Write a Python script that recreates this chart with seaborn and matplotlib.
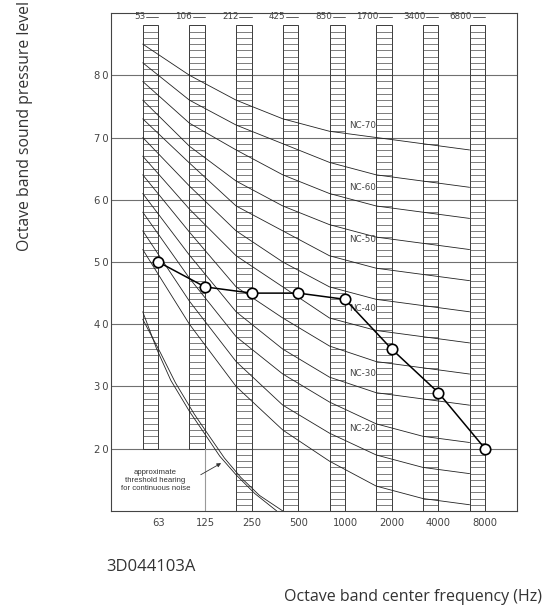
import matplotlib
matplotlib.use("Agg")
import matplotlib.pyplot as plt
import numpy as np
import pandas as pd
import seaborn as sns

# band positions (index of ladder left edge), old and new band labels
band_idx = [0, 1, 2, 3, 4, 5, 6, 7]
old_bands = ["53", "106", "212", "425", "850", "1700", "3400", "6800"]
new_bands = ["63", "125", "250", "500", "1000", "2000", "4000", "8000"]

# NC curves, values at the 8 band positions
nc15 = [52, 40.0, 30, 23, 18.0, 14, 12, 11]
nc20 = [55, 43.7, 34, 27, 22.5, 19, 17, 16]
nc25 = [58, 47.4, 38, 32, 27.5, 24, 22, 21]
nc30 = [61, 51.1, 42, 36, 31.5, 29, 28, 27]
nc35 = [64, 54.8, 46, 41, 36.5, 34, 33, 32]
nc40 = [67, 58.5, 51, 46, 41.0, 39, 38, 37]
nc45 = [70, 62.2, 55, 50, 46.0, 44, 43, 42]
nc50 = [73, 65.9, 59, 55, 51.0, 49, 48, 47]
nc55 = [76, 68.6, 63, 59, 56.0, 54, 53, 52]
nc60 = [79, 72.3, 68, 64, 61.0, 59, 58, 57]
nc65 = [82, 76.0, 72, 69, 66.0, 64, 63, 62]
nc70 = [85, 80.0, 76, 73, 71.0, 70, 69, 68]

# measured spectrum
measured = [50, 46, 45, 45, 44, 36, 29, 20]

# approximate hearing threshold (double line)
thr_a_x = [0, 0.3, 0.6, 1.0, 1.3, 1.65, 2.0, 2.4, 2.87]
thr_a_y = [42, 36, 31, 26, 22.7, 18.8, 15.8, 12.8, 10]
thr_b_x = [0, 0.38, 0.7, 1.1, 1.4, 1.75, 2.1, 2.5, 3.0]
thr_b_y = [40.8, 35.4, 30.6, 25.6, 22.3, 18.5, 15.4, 12.5, 10]

# labelled curves and where their labels sit
nc_label_names = ["NC-70", "NC-60", "NC-50", "NC-40", "NC-30", "NC-20"]
nc_label_y = [72.0, 61.9, 53.6, 42.6, 32.1, 23.3]

sns.set_theme(style="white")
plt.rcParams["font.family"] = ["DejaVu Sans"]

fig = plt.figure(figsize=(5.49, 6.05), dpi=100)
ax = fig.add_axes([0.2022, 0.1554, 0.739, 0.8231])
ax.set_xlim(-0.68, 8.01)
ax.set_ylim(10, 90)

# horizontal grid
for yv in range(20, 90, 10):
    ax.axhline(yv, color="#707070", lw=0.8, zorder=0.5)

# ladders
ladder_w = 1 / 3
for i in band_idx:
    bottom = 20 if i < 2 else 10
    ax.add_patch(plt.Rectangle((i, bottom), ladder_w, 88 - bottom, fill=False,
                               ec="#3a3a3a", lw=0.7, zorder=1))
    ax.hlines(np.arange(bottom + 1, 88), i, i + ladder_w, color="#4a4a4a",
              lw=0.5, zorder=1)
    ax.text(i + 0.05, 89.4, old_bands[i], ha="right", va="center",
            fontsize=6.3, color="#444")
    ax.plot([i + 0.07, i + ladder_w], [89.4, 89.4], color="#444", lw=0.6)
ax.plot([1 + ladder_w, 1 + ladder_w], [10, 20], color="#999", lw=0.8, zorder=1)

# NC curves
curves = [nc15, nc20, nc25, nc30, nc35, nc40, nc45, nc50, nc55, nc60, nc65, nc70]
rows = []
for k, c in enumerate(curves):
    for i, v in zip(band_idx, c):
        rows.append({"curve": k, "x": i, "level": v})
df = pd.DataFrame(rows)
sns.lineplot(data=df, x="x", y="level", units="curve", estimator=None,
             color="#222", lw=0.6, ax=ax, zorder=2)

for name, yv in zip(nc_label_names, nc_label_y):
    ax.text(4.41, yv, name, ha="left", va="center", fontsize=6.3, color="#444",
            zorder=3)

# threshold lines
ax.plot(thr_a_x, thr_a_y, color="#222", lw=0.6, zorder=2)
ax.plot(thr_b_x, thr_b_y, color="#222", lw=0.6, zorder=2)
ax.text(0.27, 14.9, "approximate\nthreshold hearing\nfor continuous noise",
        ha="center", va="center", fontsize=5.6, linespacing=1.2, color="#333",
        family=["Liberation Sans Narrow", "Liberation Sans", "DejaVu Sans"])
ax.annotate("", xy=(1.73, 17.9), xytext=(1.19, 15.6),
            arrowprops=dict(arrowstyle="-|>", lw=0.6, color="#333",
                            mutation_scale=6))

# measured spectrum
meas_x = [i + ladder_w for i in band_idx]
sns.lineplot(x=meas_x, y=measured, color="black", lw=1.1, marker="o",
             markersize=7.5, markerfacecolor="white", markeredgecolor="black",
             markeredgewidth=1.2, ax=ax, zorder=4)

ax.set_xticks(meas_x)
ax.set_xticklabels(new_bands)
ax.set_yticks(range(20, 90, 10))
ax.set_yticklabels(["2\u20090", "3\u20090", "4\u20090", "5\u20090",
                    "6\u20090", "7\u20090", "8\u20090"])
ax.tick_params(axis="x", length=0, pad=5, labelsize=7.2, labelcolor="#444")
ax.tick_params(axis="y", length=0, pad=2, labelsize=7.2, labelcolor="#444")
ax.set_xlabel("")
ax.set_ylabel("")
for sp in ax.spines.values():
    sp.set_color("#444")
    sp.set_linewidth(0.8)

txt_font = ["Open Sans", "DejaVu Sans"]
fig.text(0.0455, 0.7917, "Octave band sound pressure level", rotation=90,
         ha="center", va="center", fontsize=11.3, color="#333", family=txt_font)
fig.text(0.753, 0.0137, "Octave band center frequency (Hz)", ha="center",
         va="center", fontsize=11.5, color="#333", family=txt_font)
fig.text(0.2747, 0.0628, "3D044103A", ha="center", va="center", fontsize=12,
         color="#333", family=txt_font)

fig.savefig("out.png", dpi=100)
